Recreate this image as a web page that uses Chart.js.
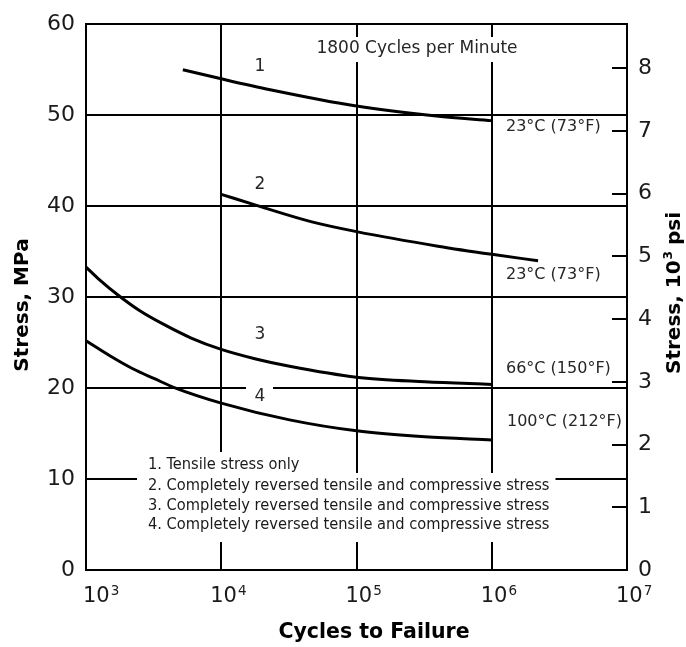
<!DOCTYPE html>
<html lang="en">
<head>
<meta charset="utf-8">
<title>Stress vs Cycles to Failure</title>
<script src="https://cdn.jsdelivr.net/npm/chart.js@4.4.1/dist/chart.umd.min.js"></script>
<style>
  body { margin: 0; background: #fff; }
  canvas { display: block; }
</style>
</head>
<body>
<canvas id="graficoFatiga" width="686" height="647"></canvas>
<script>
// curve 1: tensile only, 23°C
const cycles1 = [5.2e3, 1e4, 2.3e4, 1e5, 3.9e5, 1e6];
const stress1 = [55.0, 54.0, 52.8, 51.0, 49.9, 49.4];
// curve 2: reversed, 23°C
const cycles2 = [1e4, 1.9e4, 4.6e4, 1e5, 4e5, 1e6, 2.2e6];
const stress2 = [41.3, 40.0, 38.3, 37.2, 35.6, 34.7, 34.0];
// curve 3: reversed, 66°C
const cycles3 = [1e3, 1.26e3, 1.75e3, 2.5e3, 3.7e3, 6e3, 1e4, 1.8e4, 3.2e4, 1e5, 3.2e5, 1e6];
const stress3 = [33.3, 31.9, 30.15, 28.5, 27.05, 25.5, 24.25, 23.2, 22.4, 21.2, 20.7, 20.4];
// curve 4: reversed, 100°C
const cycles4 = [1e3, 1.5e3, 2.2e3, 3.24e3, 4.6e3, 1e4, 3.2e4, 1e5, 3.2e5, 1e6];
const stress4 = [25.2, 23.55, 22.15, 21.0, 20.0, 18.35, 16.5, 15.3, 14.65, 14.3];

const decades = [1e3, 1e4, 1e5, 1e6, 1e7];
const exponents = ['3', '4', '5', '6', '7'];
const ticksMPa = [0, 10, 20, 30, 40, 50, 60];
const ticksKsi = [0, 1, 2, 3, 4, 5, 6, 7, 8];
const MPA_PER_KSI = 6.895;

const legendLines = [
  '1. Tensile stress only',
  '2. Completely reversed tensile and compressive stress',
  '3. Completely reversed tensile and compressive stress',
  '4. Completely reversed tensile and compressive stress'
];

const FONT = 'DejaVu Sans';
const NARROW = '"DejaVu Sans Condensed", sans-serif';

function curve(xs, ys) {
  return {
    data: xs.map((x, i) => ({ x: x, y: ys[i] })),
    showLine: true,
    borderColor: '#000',
    borderWidth: 3,
    pointRadius: 0,
    cubicInterpolationMode: 'monotone',
    fill: false
  };
}

function text(ctx, str, x, y, font, color, align) {
  ctx.font = font;
  ctx.fillStyle = color || '#262626';
  ctx.textAlign = align || 'left';
  ctx.textBaseline = 'middle';
  ctx.fillText(str, x, y);
}

const annotations = {
  id: 'annotations',
  // white patches behind labels that cut the grid lines
  beforeDatasetsDraw(chart) {
    const ctx = chart.ctx;
    ctx.save();
    ctx.fillStyle = '#fff';
    ctx.font = '17px ' + FONT;
    const wTitle = ctx.measureText('1800 Cycles per Minute').width;
    ctx.fillRect(417 - wTitle / 2 - 7, 37, wTitle + 14, 25);
    ctx.fillRect(246, 378, 27, 28);

    ctx.font = '16.3px ' + NARROW;
    const w1 = ctx.measureText(legendLines[0]).width;
    const wMax = Math.max(...legendLines.map(l => ctx.measureText(l).width));
    ctx.fillRect(137, 452, w1 + 17, 22);
    ctx.fillRect(137, 473, wMax + 17, 69);
    ctx.restore();
  },
  afterDraw(chart) {
    const ctx = chart.ctx;
    const { x, y2 } = chart.scales;
    const area = chart.chartArea;
    ctx.save();

    // ksi ticks sit inside the right border
    ctx.strokeStyle = '#000';
    ctx.lineWidth = 2;
    ticksKsi.forEach(v => {
      const py = Math.round(y2.getPixelForValue(v));
      ctx.beginPath();
      ctx.moveTo(area.right - 15, py);
      ctx.lineTo(area.right, py);
      ctx.stroke();
    });

    // x tick labels as powers of ten
    decades.forEach((v, i) => {
      const px = x.getPixelForValue(v);
      const left = i === 0 ? px - 3 : px - 11;
      ctx.font = '21px ' + FONT;
      ctx.fillStyle = '#1a1a1a';
      ctx.textAlign = 'left';
      ctx.textBaseline = 'alphabetic';
      ctx.fillText('10', left, 602);
      const w = ctx.measureText('10').width;
      ctx.font = '13.5px ' + FONT;
      ctx.fillText(exponents[i], left + w + 1, 595);
    });

    // curve numbers and notes
    text(ctx, '1800 Cycles per Minute', 417, 49, '17px ' + FONT, '#262626', 'center');
    text(ctx, '1', 260, 67, '17px ' + FONT, '#262626', 'center');
    text(ctx, '2', 260, 185, '17px ' + FONT, '#262626', 'center');
    text(ctx, '3', 260, 335, '17px ' + FONT, '#262626', 'center');
    text(ctx, '4', 260, 397, '17px ' + FONT, '#262626', 'center');
    text(ctx, '23°C (73°F)', 506, 127, '16px ' + FONT);
    text(ctx, '23°C (73°F)', 506, 275, '16px ' + FONT);
    text(ctx, '66°C (150°F)', 506, 369, '16px ' + FONT);
    text(ctx, '100°C (212°F)', 507, 422, '16px ' + FONT);

    const legendY = [465, 486, 505.5, 525];
    legendLines.forEach((l, i) => text(ctx, l, 148, legendY[i], '16.3px ' + NARROW, '#1a1a1a'));

    // axis titles
    text(ctx, 'Cycles to Failure', 374, 633, 'bold 20.5px ' + FONT, '#000', 'center');

    ctx.save();
    ctx.translate(23, 305);
    ctx.rotate(-Math.PI / 2);
    text(ctx, 'Stress, MPa', 0, 0, 'bold 20px ' + FONT, '#000', 'center');
    ctx.restore();

    ctx.save();
    ctx.translate(675, 293);
    ctx.rotate(-Math.PI / 2);
    ctx.font = 'bold 20px ' + FONT;
    const a = 'Stress, 10', b = ' psi';
    const wa = ctx.measureText(a).width, wb = ctx.measureText(b).width;
    ctx.font = 'bold 12px ' + FONT;
    const ws = ctx.measureText('3').width;
    const cx = -(wa + ws + wb) / 2;
    text(ctx, a, cx, 0, 'bold 20px ' + FONT, '#000');
    text(ctx, '3', cx + wa + 1, -6, 'bold 12px ' + FONT, '#000');
    text(ctx, b, cx + wa + ws, 0, 'bold 20px ' + FONT, '#000');
    ctx.restore();

    ctx.restore();
  }
};

const grid = { color: '#000', lineWidth: 2, drawTicks: false };
const border = { color: '#000', width: 2 };

new Chart(document.getElementById('graficoFatiga'), {
  type: 'scatter',
  data: {
    datasets: [
      curve(cycles1, stress1),
      curve(cycles2, stress2),
      curve(cycles3, stress3),
      curve(cycles4, stress4)
    ]
  },
  options: {
    responsive: false,
    animation: false,
    layout: { padding: { top: 19 } },
    plugins: {
      legend: { display: false },
      tooltip: { enabled: false }
    },
    scales: {
      x: {
        type: 'logarithmic',
        min: 1e3,
        max: 1e7,
        afterBuildTicks: s => { s.ticks = decades.map(v => ({ value: v })); },
        afterFit: s => { s.height = 77; },
        ticks: { display: false },
        grid: grid,
        border: border
      },
      y: {
        min: 0,
        max: 60,
        afterBuildTicks: s => { s.ticks = ticksMPa.map(v => ({ value: v })); },
        afterFit: s => { s.width = 86; },
        ticks: { font: { family: FONT, size: 22 }, color: '#1a1a1a', padding: 11 },
        grid: grid,
        border: border
      },
      y2: {
        position: 'right',
        min: 0,
        max: 60 / MPA_PER_KSI,
        afterBuildTicks: s => { s.ticks = ticksKsi.map(v => ({ value: v })); },
        afterFit: s => { s.width = 59; },
        ticks: { font: { family: FONT, size: 22 }, color: '#1a1a1a', padding: 11 },
        grid: { drawOnChartArea: false, drawTicks: false },
        border: border
      }
    }
  },
  plugins: [annotations]
});
</script>
</body>
</html>
